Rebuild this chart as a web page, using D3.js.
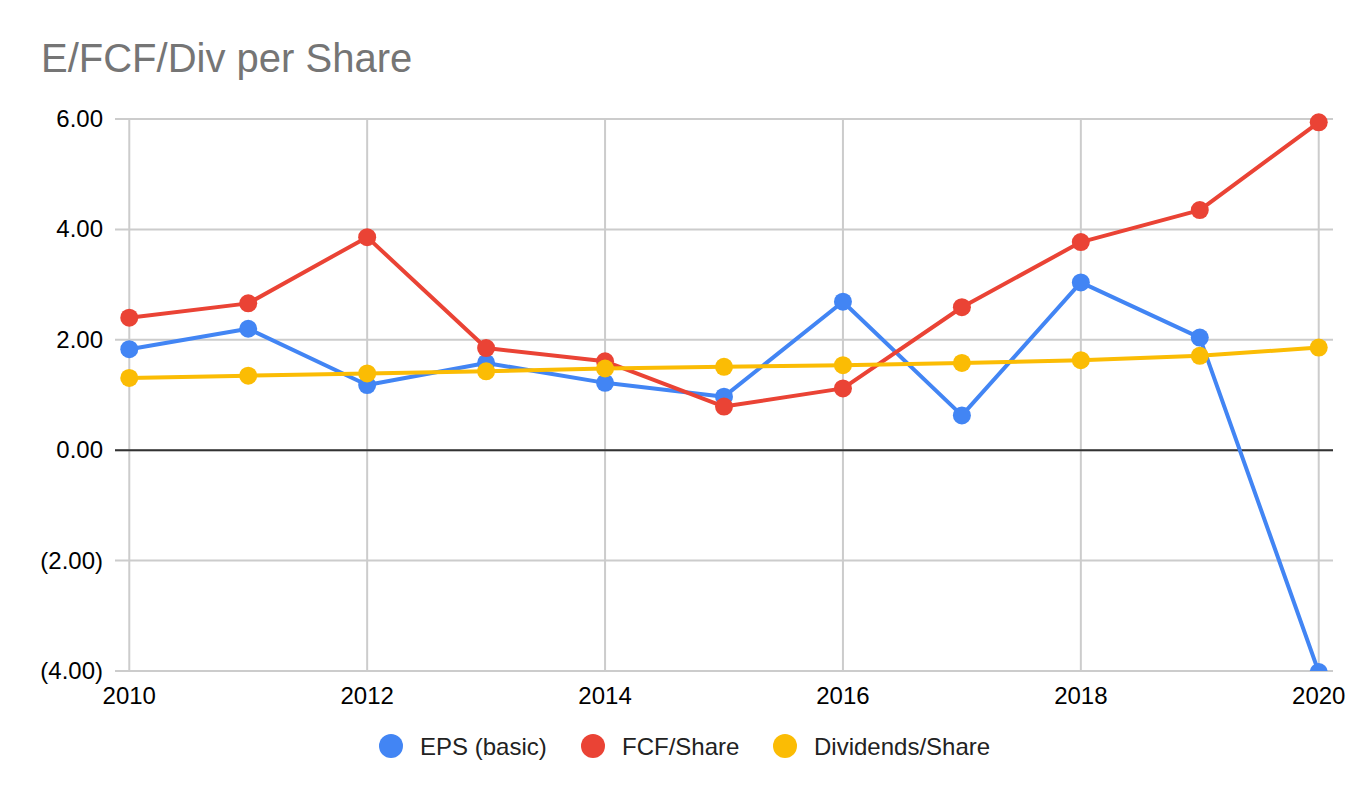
<!DOCTYPE html>
<html>
<head>
<meta charset="utf-8">
<script src="https://cdn.jsdelivr.net/npm/d3@7/dist/d3.min.js"></script>
<style>
  body { margin: 0; background: #fff; }
  svg { display: block; font-family: Arial, "Liberation Sans", sans-serif; }
</style>
</head>
<body>
<svg id="chart" width="1372" height="798"></svg>
<script>
// data
var years = [2010, 2011, 2012, 2013, 2014, 2015, 2016, 2017, 2018, 2019, 2020];
var eps = [1.83, 2.20, 1.18, 1.58, 1.22, 0.97, 2.69, 0.63, 3.04, 2.04, -4.02];
var fcf = [2.40, 2.66, 3.86, 1.85, 1.61, 0.79, 1.12, 2.59, 3.77, 4.35, 5.94];
var divs = [1.31, 1.35, 1.39, 1.43, 1.48, 1.51, 1.54, 1.58, 1.63, 1.71, 1.86];
var yTicks = [-4, -2, 0, 2, 4, 6];
var xTicks = [2010, 2012, 2014, 2016, 2018, 2020];

var seriesNames = ["EPS (basic)", "FCF/Share", "Dividends/Share"];
var seriesColors = ["#4285f4", "#ea4335", "#fbbc04"];
var seriesData = [eps, fcf, divs];

var svg = d3.select("#chart");

var margin = {top: 119, right: 39, bottom: 127, left: 115};
var width = 1372 - margin.left - margin.right,
  height = 798 - margin.top - margin.bottom;

var xScale = d3.scaleLinear()
  .domain([2009.88, 2020.12])
  .range([0, width]);

var yScale = d3.scaleLinear()
  .domain([-4, 6])
  .range([height, 0]);

var fmt = function(v) {
  var s = d3.format(".2f")(Math.abs(v));
  return v < 0 ? "(" + s + ")" : s;
};

svg.append("text")
  .attr("x", 41)
  .attr("y", 72)
  .attr("fill", "#757575")
  .attr("font-size", 40)
  .text("E/FCF/Div per Share");

var g = svg.append("g")
  .attr("transform", "translate(" + margin.left + "," + margin.top + ")");

svg.append("defs").append("clipPath")
  .attr("id", "plotClip")
  .append("rect")
  .attr("x", -20)
  .attr("y", -20)
  .attr("width", width + 40)
  .attr("height", height + 20);

// horizontal grid
g.append("g")
  .selectAll("line")
  .data(yTicks)
  .enter()
  .append("line")
  .attr("x1", 0)
  .attr("x2", width)
  .attr("y1", function(d) { return yScale(d); })
  .attr("y2", function(d) { return yScale(d); })
  .attr("stroke", "#cccccc")
  .attr("stroke-width", 2);

// vertical grid
g.append("g")
  .selectAll("line")
  .data(xTicks)
  .enter()
  .append("line")
  .attr("x1", function(d) { return xScale(d); })
  .attr("x2", function(d) { return xScale(d); })
  .attr("y1", 0)
  .attr("y2", height)
  .attr("stroke", "#cccccc")
  .attr("stroke-width", 2);

// zero line on top of the grid
g.append("line")
  .attr("x1", 0)
  .attr("x2", width)
  .attr("y1", yScale(0))
  .attr("y2", yScale(0))
  .attr("stroke", "#333333")
  .attr("stroke-width", 2);

// y labels
g.append("g")
  .selectAll("text")
  .data(yTicks)
  .enter()
  .append("text")
  .attr("x", -12)
  .attr("y", function(d) { return yScale(d) + 8; })
  .attr("text-anchor", "end")
  .attr("font-size", 24)
  .attr("fill", "#000")
  .text(fmt);

// x labels
g.append("g")
  .selectAll("text")
  .data(xTicks)
  .enter()
  .append("text")
  .attr("x", function(d) { return xScale(d); })
  .attr("y", height + 33)
  .attr("text-anchor", "middle")
  .attr("font-size", 24)
  .attr("fill", "#000")
  .text(function(d) { return d; });

var line = d3.line()
  .x(function(d, i) { return xScale(years[i]); })
  .y(function(d) { return yScale(d); });

var plot = g.append("g").attr("clip-path", "url(#plotClip)");

seriesData.forEach(function(vals, k) {
  var sg = plot.append("g");
  sg.append("path")
    .datum(vals)
    .attr("fill", "none")
    .attr("stroke", seriesColors[k])
    .attr("stroke-width", 4)
    .attr("stroke-linejoin", "round")
    .attr("d", line);
  sg.selectAll("circle")
    .data(vals)
    .enter()
    .append("circle")
    .attr("cx", function(d, i) { return xScale(years[i]); })
    .attr("cy", function(d) { return yScale(d); })
    .attr("r", 9)
    .attr("fill", seriesColors[k]);
});

// legend
var legendX = [391, 593, 785];
var legend = svg.append("g");
seriesNames.forEach(function(name, k) {
  legend.append("circle")
    .attr("cx", legendX[k])
    .attr("cy", 746)
    .attr("r", 12)
    .attr("fill", seriesColors[k]);
  legend.append("text")
    .attr("x", legendX[k] + 29)
    .attr("y", 754.5)
    .attr("font-size", 24)
    .attr("fill", "#222")
    .text(name);
});
</script>
</body>
</html>
